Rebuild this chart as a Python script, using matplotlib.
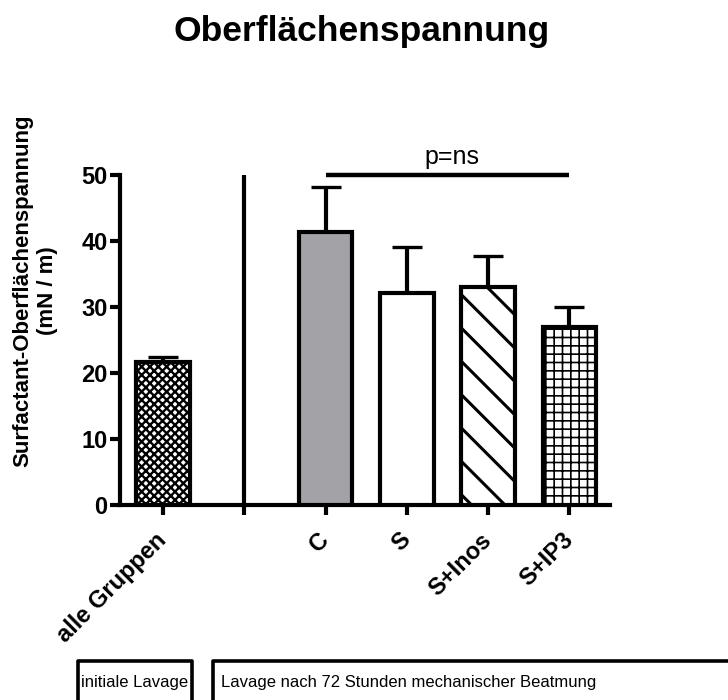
import numpy as np
import matplotlib
matplotlib.use("Agg")
import matplotlib.pyplot as plt
import matplotlib.transforms as mtransforms
from matplotlib.patches import Rectangle

plt.rcParams["font.family"] = ["Liberation Sans", "DejaVu Sans"]

# data
groups = ["alle Gruppen", "C", "S", "S+Inos", "S+IP3"]
means = [21.7, 41.4, 32.1, 33.0, 27.0]
sem = [0.8, 6.8, 7.0, 4.7, 3.0]
yticks = [0, 10, 20, 30, 40, 50]
sig_text = "p=ns"
box_labels = ["initiale Lavage", "Lavage nach 72 Stunden mechanischer Beatmung"]

faces = ["white", "#a3a2a7", "white", "white", "white"]
hatches = ["xxxx", None, None, "\\", "++"]
hatch_lw = [1.7, 1.0, 1.0, 2.2, 1.2]

# first group, then an empty slot used as divider, then the rest
xpos = np.array([0] + list(range(2, 2 + len(groups) - 1)))
divider_x = 1

fig = plt.figure(figsize=(7.28, 7.0), dpi=100, facecolor="white")
ax = fig.add_axes([120 / 728, 1 - 505 / 700, 490 / 728, 330 / 700])

bars = ax.bar(xpos, means, width=0.66, color=faces, edgecolor="black",
              linewidth=3, zorder=3)
for b, h, lw in zip(bars, hatches, hatch_lw):
    if h:
        b.set_hatch(h)
        try:
            b.set_hatch_linewidth(lw)
        except AttributeError:
            plt.rcParams["hatch.linewidth"] = lw

ax.errorbar(xpos, means, yerr=[np.zeros(len(sem)), sem], fmt="none",
            ecolor="black", elinewidth=3, capsize=10.5, capthick=2.4, zorder=2)

# divider between initial lavage and later groups
ax.plot([divider_x, divider_x], [0, yticks[-1]], color="black", lw=3,
        solid_capstyle="butt", zorder=4, clip_on=False)

# significance bar
ax.plot([xpos[1], xpos[-1]], [50, 50], color="black", lw=3.2,
        solid_capstyle="butt", clip_on=False)
ax.text((xpos[1] + xpos[-1]) / 2 + 0.05, 51.6, sig_text, fontsize=18,
        ha="center", va="baseline", clip_on=False)

ax.set_xlim(-0.53, 5.5)
ax.set_ylim(0, 50)
ax.set_yticks(yticks)
ax.set_yticklabels([str(v) for v in yticks], fontsize=17, fontweight="bold")

ticks = [xpos[0], divider_x] + list(xpos[1:])
ax.set_xticks(ticks)
ax.set_xticklabels([])
# rotated category labels, nudged a bit left of their ticks
lab_trans = ax.get_xaxis_transform() + mtransforms.ScaledTranslation(
    -0.08, -17 / 72, fig.dpi_scale_trans)
for x, lab in zip(xpos, groups):
    ax.text(x, 0, lab, transform=lab_trans, fontsize=17, fontweight="bold",
            rotation=45, ha="right", va="top", rotation_mode="anchor",
            clip_on=False)

for s in ["top", "right"]:
    ax.spines[s].set_visible(False)
for s in ["left", "bottom"]:
    ax.spines[s].set_linewidth(3)
ax.tick_params(axis="both", width=3, length=7, direction="out")
ax.tick_params(axis="y", pad=2)

fig.text(362 / 728, 1 - 31 / 700, "Oberflächenspannung", fontsize=25.5,
         fontweight="bold", ha="center", va="center")
fig.text(35 / 728, 1 - 291 / 700, "Surfactant-Oberflächenspannung\n(mN / m)",
         fontsize=16, fontweight="bold", rotation=90, ha="center", va="center",
         multialignment="center", linespacing=1.2)

# group boxes at the bottom
top = 1 - 661 / 700
for x0, x1 in [(78, 192), (213, 745)]:
    fig.patches.append(Rectangle((x0 / 728, -0.05), (x1 - x0) / 728, top + 0.05,
                                 transform=fig.transFigure, fill=False,
                                 lw=2.6, edgecolor="black", joinstyle="round"))
fig.text(135 / 728, 1 - 682 / 700, box_labels[0], fontsize=12,
         ha="center", va="center")
fig.text(221 / 728, 1 - 682 / 700, box_labels[1], fontsize=12,
         ha="left", va="center")

fig.savefig("out.png", dpi=100, facecolor="white")
